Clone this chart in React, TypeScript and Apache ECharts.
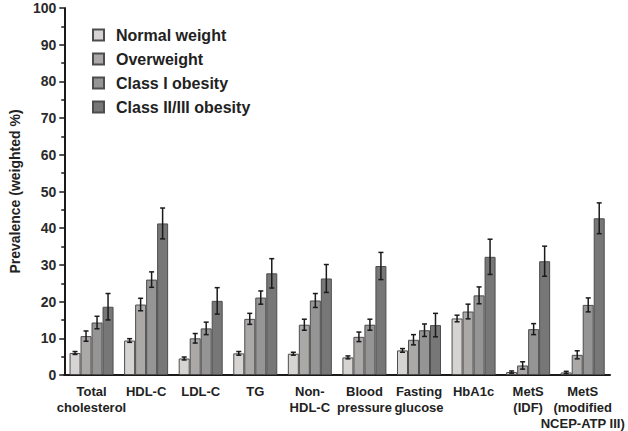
import React, { useEffect, useRef } from "react";
import * as echarts from "echarts";

const categories = [
  "Total\ncholesterol",
  "HDL-C",
  "LDL-C",
  "TG",
  "Non-\nHDL-C",
  "Blood\npressure",
  "Fasting\nglucose",
  "HbA1c",
  "MetS\n(IDF)",
  "MetS\n(modified\nNCEP-ATP III)",
];

const seriesNames = ["Normal weight", "Overweight", "Class I obesity", "Class II/III obesity"];

const normalWeight = [6.0, 9.4, 4.5, 5.9, 5.8, 4.8, 6.7, 15.4, 0.8, 0.7];
const overweight = [10.6, 19.2, 10.0, 15.3, 13.7, 10.4, 9.6, 17.3, 2.6, 5.5];
const classI = [14.3, 26.0, 12.7, 21.1, 20.3, 13.7, 12.2, 21.7, 12.5, 19.1];
const classIIIII = [18.6, 41.3, 20.2, 27.7, 26.3, 29.7, 13.6, 32.2, 31.0, 42.7];

const errNormal = [0.4, 0.5, 0.4, 0.5, 0.4, 0.4, 0.5, 0.9, 0.3, 0.3];
const errOverweight = [1.4, 1.7, 1.3, 1.5, 1.5, 1.3, 1.4, 2.0, 1.0, 1.1];
const errClassI = [1.7, 2.1, 1.7, 1.8, 1.9, 1.5, 1.7, 2.3, 1.5, 1.9];
const errClassIIIII = [3.6, 4.2, 3.6, 4.0, 3.8, 3.7, 3.2, 4.8, 4.1, 4.2];

const yTicks = { min: 0, max: 100, interval: 10 };

const colors = ["#d6d3d3", "#aba8a8", "#959595", "#777777"];
const BAR_W = 11;
const FONT = "'Liberation Sans', Arial, sans-serif";

export default function App() {
  const ref = useRef<HTMLDivElement>(null);
  useEffect(() => {
    if (!ref.current) return;
    const chart = echarts.init(ref.current, undefined, { renderer: "svg" });
    const values = [normalWeight, overweight, classI, classIIIII];
    const errs = [errNormal, errOverweight, errClassI, errClassIIIII];
    const errData: number[][] = [];
    values.forEach((arr, s) => {
      arr.forEach((v, i) => errData.push([i, v, errs[s][i], s]));
    });

    chart.setOption({
      animation: false,
      backgroundColor: "#ffffff",
      textStyle: { fontFamily: FONT },
      grid: { left: 57, right: 18, top: 8, bottom: 55, containLabel: false },
      legend: {
        orient: "vertical",
        left: 92,
        top: 26,
        itemWidth: 11,
        itemHeight: 11,
        itemGap: 6,
        icon: "rect",
        padding: 0,
        data: seriesNames,
        textStyle: {
          fontFamily: FONT,
          fontWeight: "bold",
          fontSize: 16,
          color: "#222",
          lineHeight: 18,
          padding: [0, 0, 0, 7],
        },
      },
      xAxis: {
        type: "category",
        data: categories,
        axisLine: { lineStyle: { color: "#1a1a1a", width: 2 } },
        axisTick: { alignWithLabel: true, length: 4, lineStyle: { color: "#1a1a1a", width: 1.5 } },
        axisLabel: {
          interval: 0,
          fontFamily: FONT,
          fontWeight: "bold",
          fontSize: 13,
          color: "#222",
          lineHeight: 16,
          margin: 8,
        },
      },
      yAxis: {
        type: "value",
        min: yTicks.min,
        max: yTicks.max,
        interval: yTicks.interval,
        name: "Prevalence (weighted %)",
        nameLocation: "middle",
        nameGap: 42,
        nameTextStyle: { fontFamily: FONT, fontWeight: "bold", fontSize: 14, color: "#222" },
        axisLine: { show: true, lineStyle: { color: "#1a1a1a", width: 2 } },
        axisTick: { show: true, length: 5, lineStyle: { color: "#1a1a1a", width: 1.5 } },
        minorTick: { show: true, splitNumber: 2, length: 3, lineStyle: { color: "#1a1a1a", width: 1.5 } },
        splitLine: { show: false },
        axisLabel: { fontFamily: FONT, fontWeight: "bold", fontSize: 14, color: "#2a2a2a", margin: 8 },
      },
      series: [
        ...values.map((arr, s) => ({
          name: seriesNames[s],
          type: "bar",
          data: arr,
          barWidth: BAR_W,
          barGap: "0%",
          itemStyle: { color: colors[s], borderColor: "#4d4d4d", borderWidth: 1 },
        })),
        {
          type: "custom",
          name: "err",
          z: 5,
          data: errData,
          renderItem: (params: any, api: any) => {
            const cat = api.value(0);
            const v = api.value(1);
            const e = api.value(2);
            const s = api.value(3);
            const c = api.coord([cat, v]);
            const x = c[0] + (s - 1.5) * BAR_W;
            const top = api.coord([cat, v + e])[1];
            const bot = api.coord([cat, Math.max(0, v - e)])[1];
            const style = { stroke: "#1a1a1a", lineWidth: 1.5 };
            const cap = 2.5;
            return {
              type: "group",
              children: [
                { type: "line", shape: { x1: x, y1: top, x2: x, y2: bot }, style },
                { type: "line", shape: { x1: x - cap, y1: top, x2: x + cap, y2: top }, style },
                { type: "line", shape: { x1: x - cap, y1: bot, x2: x + cap, y2: bot }, style },
              ],
            };
          },
        },
      ],
    });
    return () => chart.dispose();
  }, []);
  return <div ref={ref} style={{ position: "fixed", left: 0, top: 0, width: 628, height: 431 }} />;
}
